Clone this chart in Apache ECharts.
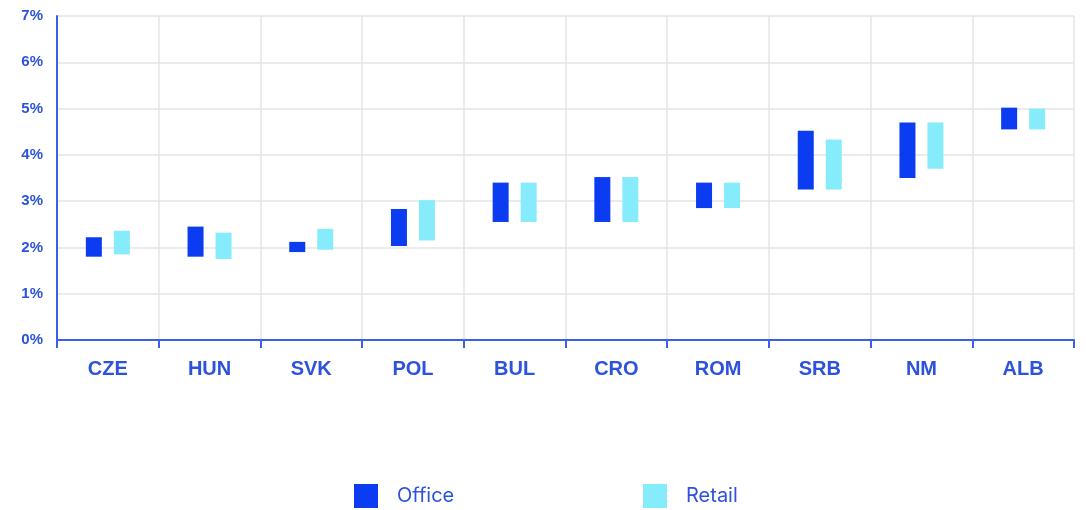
<!DOCTYPE html>
<html>
<head>
<meta charset="utf-8">
<script src="https://cdn.jsdelivr.net/npm/echarts@6/dist/echarts.min.js"></script>
<style>
  html, body { margin: 0; padding: 0; background: #ffffff; }
  #chart { width: 1086px; height: 510px; }
</style>
</head>
<body>
<div id="chart"></div>
<script>
// Yield ranges (%) by country, office and retail
const categories = ['CZE', 'HUN', 'SVK', 'POL', 'BUL', 'CRO', 'ROM', 'SRB', 'NM', 'ALB'];
const officeLow  = [1.80, 1.80, 1.90, 2.03, 2.55, 2.55, 2.85, 3.25, 3.50, 4.55];
const officeHigh = [2.22, 2.45, 2.12, 2.83, 3.40, 3.52, 3.40, 4.52, 4.70, 5.02];
const retailLow  = [1.85, 1.75, 1.95, 2.15, 2.55, 2.55, 2.85, 3.25, 3.70, 4.55];
const retailHigh = [2.36, 2.32, 2.40, 3.02, 3.40, 3.52, 3.40, 4.33, 4.70, 5.00];
const yTicks = [0, 1, 2, 3, 4, 5, 6, 7];

const OFFICE = '#0b3cf2';
const RETAIL = '#86ecfb';
const AXIS = '#3a60ea';
const TEXT = '#2d52db';
const FONT = '"Liberation Sans", Arial, sans-serif';
const LEGEND_FONT = 'Inter, "Liberation Sans", Arial, sans-serif';

const span = (lo, hi) => hi.map((h, i) => +(h - lo[i]).toFixed(3));

const chart = echarts.init(document.getElementById('chart'), null, { renderer: 'canvas' });

// invisible base segment that lifts each range bar to its lower bound
const baseStyle = { color: 'rgba(0,0,0,0)' };

const legendItem = (name, left) => ({
  data: [name], left: left, top: 484, padding: 0,
  itemWidth: 24, itemHeight: 24, icon: 'rect',
  textStyle: { color: TEXT, fontSize: 20, fontFamily: LEGEND_FONT, padding: [0, 0, 0, 14] }
});

chart.setOption({
  animation: false,
  backgroundColor: '#ffffff',
  grid: { left: 57, right: 12, top: 16, bottom: 170, containLabel: false },
  legend: [legendItem('Office', 354), legendItem('Retail', 643)],
  xAxis: {
    type: 'category',
    data: categories,
    boundaryGap: true,
    axisLine: { show: true, lineStyle: { color: AXIS, width: 2 } },
    axisTick: { show: true, length: 8, lineStyle: { color: AXIS, width: 2 } },
    axisLabel: { color: TEXT, fontSize: 20, fontWeight: 'bold', fontFamily: FONT, margin: 19 },
    splitLine: { show: true, lineStyle: { color: '#e5e5e5', width: 1.5 } }
  },
  yAxis: {
    type: 'value',
    min: yTicks[0],
    max: yTicks[yTicks.length - 1],
    interval: 1,
    axisLine: { show: true, lineStyle: { color: AXIS, width: 2 } },
    axisTick: { show: false },
    axisLabel: { color: TEXT, fontSize: 15, fontWeight: 'bold', fontFamily: FONT, margin: 14,
                 formatter: v => v + '%' },
    splitLine: { show: true, lineStyle: { color: '#e5e5e5', width: 1.5 } }
  },
  series: [
    { name: 'officeBase', type: 'bar', stack: 'office', data: officeLow, barWidth: 16, barGap: '75%',
      itemStyle: baseStyle, silent: true },
    { name: 'Office', type: 'bar', stack: 'office', data: span(officeLow, officeHigh), barWidth: 16, barGap: '75%',
      itemStyle: { color: OFFICE } },
    { name: 'retailBase', type: 'bar', stack: 'retail', data: retailLow, barWidth: 16, barGap: '75%',
      itemStyle: baseStyle, silent: true },
    { name: 'Retail', type: 'bar', stack: 'retail', data: span(retailLow, retailHigh), barWidth: 16, barGap: '75%',
      itemStyle: { color: RETAIL } }
  ]
});
</script>
</body>
</html>
